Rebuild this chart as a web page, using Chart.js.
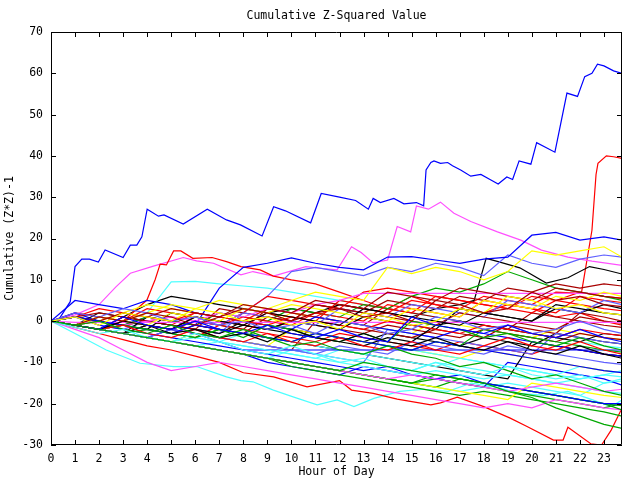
<!DOCTYPE html>
<html>
<head>
<meta charset="utf-8">
<script src="https://cdn.jsdelivr.net/npm/chart.js@4.4.1/dist/chart.umd.min.js"></script>
<style>
  html, body { margin: 0; padding: 0; background: #fff; }
</style>
</head>
<body>
<canvas id="chart" width="640" height="480"></canvas>
<script>
// ---- data (hours of day, cumulative Z*Z-1 per run) ----
const chartTitle = "Cumulative Z-Squared Value";
const xTitle = "Hour of Day";
const yTitle = "Cumulative (Z*Z)-1";
const hourTicks = [0, 1, 2, 3, 4, 5, 6, 7, 8, 9, 10, 11, 12, 13, 14, 15, 16, 17, 18, 19, 20, 21, 22, 23];

// hourly samples shared by most runs
const hours = [0, 1, 2, 3, 4, 5, 6, 7, 8, 9, 10, 11, 12, 13, 14, 15, 16, 17, 18, 19, 20, 21, 22, 23, 23.75];

const run01 = [0, -1, -2, -3, -4, -5, -6, -7, -8, -9, -10, -11, -12, -10, -11, -12, -13, -14, -15, -17, -18.5, -21, -23, -25, -26];
const run02 = [0, -1.5, -3, -2, -4, -5, -3, -5, -7, -8, -6, -8, -10, -9, -11, -12, -10, -12, -13, -11, -13, -14, -13, -15, -14];
const run03 = [0, -1, 0, -2, -3, -1, -3, -4, -2, -4, -6, -5, -7, -8, -6, -8, -9, -11, -10, -12, -14, -13, -15, -17, -18];
const run04 = [0, -1, -2, 1, -1, -2, 0, -2, -3, -1, -3, -4, -2, -4, -5, 1, -1, -2, -3, -1, -3, -4, -2, -4, -5];
const run05 = [0, -1, 1, 0, 2, 1, -1, 1, 3, 2, 0, 4, 3, 1, 2, 0, 5, 4, 2, 3, 7, 5, 6, 4, 3.5];
const run06 = [0, 1, -1, 2, 1, 0, 3, 2, 0, 1, -1, 0, -2, 2, 1, -1, 0, 3, 2, 6, 5, 3, 4, 2, 1.5];
const run07 = [0, -1, -2, 0, -1, -3, -2, -4, -3, -5, -2, -4, -5, -3, -5, -6, -4, -6, -7, -5, -7, -8, -6, -8, -9];
const run08 = [0, 2, 1, 3, 2, 0, 1, -1, 0, -2, -1, -3, 0, -1, -3, -2, 1, 0, -2, -1, -3, -2, 0, -2, -3];
const run09 = [0, -1, -2, -1, -3, -4, -2, -4, -5, -3, -5, -6, -4, -6, -7, -5, -7, -8, -6, -4, -6, -7, -5, -7, -8];
const run10 = [0, -1, -2, -1, -2, -3, -4, -2, -4, -1, -2, -4, -5, -3, -5, 0, -1, -2, -4, -3, -5, -6, -4, -6, -7];
const run11 = [0, 1, 0, -1, -2, -3, -1, -2, -3, -4, -5, -3, -4, -5, -6, -7, -5, -6, -7, -8, -9, -10, -11, -12, -12.5];
const run12 = [0, -1, -2, -3, -4, -5, -6, -7, -8, -9, -10, -11, -12, -13, -14, -13, -14, -15, -16, -17, -16, -15, -16, -17, -16.5];
const run13 = [0, -1, -2, -3, -4, -5, -4, -5, -6, -7, -8, -9, -10, -11, -12, -13, -12, -13, -14, -13, -14, -15, -14, -13, -13.5];
const run14 = [0, 1, 0, 2, 1, 3, 2, 1, 4, 3, 2, 5, 4, 3, 7, 6, 5, 8, 7, 6, 5, 8, 7, 6, 5.5];
const run15 = [0, -1, 1, 0, -1, 2, 1, 0, 3, 2, 4, 3, 2, 1, 0, 3, 2, 1, 5, 4, 3, 6, 5, 7, 6];
const run16 = [0, -1, -2, -3, -1, -2, 1, 0, -1, 2, 1, 0, -1, 3, 2, 1, 0, -1, 2, 1, 0, 4, 3, 2, 1.5];
const run17 = [0, -1, -2, -3, -4, -2, -3, -4, -5, -6, -7, -8, -6, -7, -8, -5, -6, -7, -8, -6, -7, -8, -9, -10, -10.5];
const run18 = [0, 1, 3, 2, 1, 0, 2, 1, 0, -1, 1, 0, -1, -2, 0, -1, -2, -3, -1, -2, -3, -4, -2, -3, -3.5];
const run19 = [0, -1, -2, -3, -2, -3, -4, -2, -3, -4, -5, -3, -4, -5, -6, -7, -5, -6, -2, -3, -4, -5, -6, -7, -7.5];
const run20 = [0, 1, -1, -2, -3, -4, -5, -6, -7, -8, -9, -10, -11, -12, -11, -13, -14, -13, -15, -16, -17, -18, -19, -20, -20];
const run21 = [0, -0.3, -0.3, -0.3, -0.3, -0.3, -0.3, -0.3, -0.3, -0.3, -0.3, -0.3, -0.3, -0.3, -0.3, -0.3, -0.3, -0.3, -0.3, -0.3, -0.3, -0.3, -0.3, -0.3, -0.3];
const run22 = [0, -1, -2, -3, -4, -2, -3, -5, -7, -7, -7, -7, -7, -7, -7, -7, -7, -7, -7, -7, -7, -7, -7, -7, -7];
const run23 = [0, -1, -2, -1, 0, 1, 0, 2, 1, 3, 2, 4, 5, 6.7, 6.7, 6.7, 6.7, 6.7, 6.7, 6.7, 6.7, 6.7, 6.7, 6.7, 6.7];
const run24 = [0, -1, -2, -3, -2, -3, -4, -5, -3, -4, -5, -6, -7, -8, -6, -7, -8, -9, -10, -11, -12, -13, -14, -13, -12];
const run25 = [0, -1, 0, -1, -2, -3, -1, -2, -3, 1, 0, 2, 3, 2, 1, 0, -1, 2, 1, 0, -1, -2, 1, 0, -0.5];
const run26 = [0, -1, 1, 0, 2, 4, 3, 5, 4, 3, 5, 7, 6, 5, 13, 11.5, 13, 12, 10, 12, 17, 16, 17, 18, 15.5];
const run27 = [0, 1, 0, -1, -2, 2, 1, 0, -1, -2, -3, -4, -5, -6, -4, -5, -1, 0, -1, -2, -3, -4, -5, -3, -3.5];
const run28 = [0, -1, -2, -3, -4, -5, -6, -7, -8, -9, -10, -11, -12, -13, -14, -15, -13, -14, -15, -16, -17, -18, -19, -20, -21.5];
const run29 = [0, -1, 1, 0, -1, -2, 0, -1, 2, 1, 0, -1, 3, 2, 1, 4, 3, 2, 1, 5, 4, 3, 2, 5, 4];
const run30 = [0, -1, -2, -3, -4, -5, -6, -7, -8, -9, -7, -8, -9, -10, -11, -12, -10, -11, -12, -13, -14, -15, -16, -17, -17.5];
const run31 = [0, 1, 2, 1, 0, -1, -2, 3, 2, 1, 0, 4, 3, 2, 5, 4, 3, 6, 5, 8, 7, 9, 8, 9, 8.5];
const run32 = [0, -1, -2, -3, -4, -5, -3, -4, -5, -6, -2, -3, -4, -5, -6, -7, -8, -9, -7, -8, -9, -10, -11, -12, -12.5];
const run33 = [0, -1, 2, 1, 0, -1, -2, -3, -1, -2, 0, -1, -2, 1, 0, -1, -2, 3, 2, 1, 0, 3, 2, 4, 3];
const run34 = [0, -1, -2, -3, -1, -2, 0, -1, 1, 0, -1, 2, 1, 0, 4, 3, 2, 1, 5, 4, 3, 2, 6, 5, 4.5];
const run35 = [0, 1, 0, -1, 1, 0, -1, 2, 1, 0, 3, 2, 1, 4, 3, 6, 8, 7, 9, 12, 10, 8, 7, 6, 5];
const run36 = [0, 5, 4, 3, 5, 4, 2, 1, 0, -1, -2, 1, 0, -1, -2, -3, -4, -2, -3, -4, -5, -6, -7, -8, -8.5];
const run37 = [0, -2, -4, -7, -10, -12, -11, -10, -11, -12, -13, -14, -15, -16, -17, -18, -19, -20, -21, -20, -21, -19, -20, -21, -21.5];
const run38 = [0, -1, -2, 0, -1, -2, 1, 0, -1, -2, 0, -1, -2, -3, -1, -2, -3, -4, -2, -3, -4, -5, -3, -4, -4.5];
const run39 = [0, -1, -2, -1, 0, 1, 0, -1, 2, 6, 5, 4, 3, 7, 8, 7, 6, 5, 4, 3, 6, 5, 7, 6, 5.5];
const run40 = [0, -1, -2, -3, -1, -2, -3, -4, -5, -6, -7, -8, -9, -10, -2, -3, -4, -5, -6, -7, -8, -3, -4, -5, -5.5];
const run41 = [0, -1, -2, -3, -4, -5, -6, -5, -6, -7, -8, -9, -7, -8, -9, -10, -11, -9, -10, -11, -12, -13, -11, -12, -12.5];
const run42 = [0, -1, -2, -3, -4, -5, -6, -7, -8, -9, -10, -11, -12, -13, -14, -15, -14, -15, -16, -17, -18, -19, -20, -21, -20];
const run43 = [0, -1, -2, 0, -1, -2, -3, -4, -5, -6, -7, 0, -1, -2, -3, -4, -2, -3, -4, -1, -2, -3, 2, 1, 0];
const run44 = [0, -1, -2, -3, 1, 0, -1, -2, -3, -4, -5, -6, -7, -8, -9, -10, -11, -12, -13, -14, -5, -6, -7, -8, -8.5];
const run45 = [0, -1, -2, -3, -4, -5, -6, -7, -8, -9, -10, -11, -12, -13, -14, -15, -16, -17, -18, -19, -15, -16, -17, -18, -18.5];
const run46 = [0, 2, 0, -1, 1, 0, -1, 8, 13, 14, 15.3, 14, 13, 12.4, 15.5, 15.6, 14.8, 14, 15, 15.5, 20.8, 21.5, 19.6, 20.4, 19.6];
const run47 = [0, 1, -1, -2, 0, -1, -2, -3, 2, 6, 12, 13, 12, 11, 13, 12, 14, 13, 11, 16, 14, 13, 15, 16, 15.5];
const run48 = [0, 2, 1, 0, 3, 2, 1, 0, -1, 2, 1, 0, 5, 4, 3, 2, 6, 5, 4, 3, 2, 5, 4, 3, 2.5];
const run49 = [0, -1, 1, 0, -1, -2, 0, -1, -2, 3, 2, 1, 0, -1, 3, 2, 1, 0, -1, -2, 2, 1, 0, -1, -1.5];
const run50 = [0, 1, 0, 2, 4, 3, 2, 1, 0, -1, 2, 1, 0, -1, -2, -3, 0, -1, -2, -3, -4, -2, -3, -4, -4.5];
const run51 = [0, -1, -2, -1, 0, -1, -2, -3, 0, -1, -2, -3, -4, -5, -3, -4, -5, -6, -4, -5, -6, -3, -4, -5, -5.5];
const run52 = [0, -1, -2, -3, -2, -3, -4, -1, -2, -3, -4, -5, -3, -4, -5, -6, -7, -5, -6, -7, -8, -6, -7, -8, -8.5];
const run53 = [0, -1, 1, 0, 2, 9.5, 9.6, 9, 8.5, 8, 7, 6, 5, 4, 3, 2, 1, 0, -1, -2, -3, -4, -5, -6, -6.5];
const run54 = [0, -1, -2, -3, -4, -5, -6, -7, -8, -9, -11, -12, -13, -14, -15, -16, -17, -18, -17, -18, -19, -20, -21, -22, -23];
const run55 = [0, -1, -2, -3, -4, -5, -6, -7, -8, -10, -11, -12, -13, -11, -12, -13, -14, -15, -16, -10, -11, -12, -13, -14, -15.5];
const run56 = [0, -1, -2, -3, -4, -5, -6, -7, -8, -9, -10, -11, -12, -13, -14, -15, -16, -14, -15, -16, -17, -18, -19, -20, -20.5];
const run57 = [0, -1, -2, -3, -4, -5, -6, -7, -8, -9, -10, -11, -12, -13, -14, -15, -16, -17, -16, -15, -16, -17, -18, -15, -14.5];

// runs read at finer time steps
const topBlueHours = [0, 0.25, 0.5, 0.8, 1, 1.28, 1.6, 1.97, 2.25, 3, 3.3, 3.57, 3.78, 4, 4.47, 4.7, 5.5, 6.5, 7.3, 7.88, 8.78, 9.26, 9.75, 10.8, 11.24, 12, 12.67, 13.2, 13.4, 13.7, 14.26, 14.68, 15.2, 15.5, 15.6, 15.8, 15.93, 16.2, 16.5, 16.7, 17.04, 17.46, 17.88, 18.26, 18.6, 18.96, 19.2, 19.47, 19.96, 20.2, 20.96, 21.46, 21.9, 22.2, 22.5, 22.73, 23, 23.4, 23.75];
const topBlueValues = [0, -0.3, 2, 4.7, 13.2, 15, 15, 14.3, 17.2, 15.4, 18.4, 18.4, 20.4, 27.1, 25.4, 25.7, 23.5, 27.1, 24.5, 23.3, 20.6, 27.7, 26.7, 23.8, 30.9, 30, 29.2, 27.1, 29.7, 28.7, 29.7, 28.4, 28.7, 27.9, 36.6, 38.4, 38.8, 38.2, 38.4, 37.6, 36.6, 35.1, 35.5, 34.3, 33.2, 34.9, 34.3, 38.8, 38, 43.2, 40.9, 55.2, 54.4, 59.2, 60, 62.2, 61.8, 60.6, 60];

const spikeRedHours = [0, 1, 2, 3, 4, 5, 6, 7, 8, 9, 10, 11, 12, 13, 14, 15, 16, 17, 18, 19, 20, 21, 22.06, 22.5, 22.67, 22.75, 23.1, 23.4, 23.75];
const spikeRedValues = [0, -1, -2, 1, 0, -1, 2, 1, 0, 3, 2, 1, 4, 3, 2, 5, 4, 3, 6, 5, 4, 7, 6.7, 22, 35.5, 38.2, 40, 39.8, 39.4];

const pinkHours = [0, 1, 2, 2.7, 3.3, 4.26, 5.5, 6.06, 6.76, 7.9, 8.4, 9.25, 10.6, 11.2, 11.9, 12.5, 12.9, 13.4, 14, 14.4, 14.96, 15.2, 15.7, 16.2, 16.76, 17.46, 18.57, 19.54, 20.4, 21.5, 22.5, 23.75];
const pinkValues = [0, 1.5, 4, 8.3, 11.6, 13.3, 15.4, 14.6, 14, 11.2, 12, 10.9, 13.2, 12.8, 12.4, 18, 16.6, 14.1, 14.8, 22.9, 21.6, 27.9, 27.1, 28.8, 26.1, 24.1, 21.6, 19.6, 17.2, 15.5, 14.5, 13.5];

const redHighHours = [0, 1, 2, 3, 3.99, 4.33, 4.54, 4.8, 5.1, 5.4, 5.9, 6.7, 7.3, 7.9, 8.7, 9.25, 10, 11, 12, 13, 14, 15, 16, 17, 18, 19, 20, 21, 22, 23, 23.75];
const redHighValues = [0, -1, -2, 0, 5.1, 10, 13.8, 13.6, 17, 17, 15.2, 15.4, 14.4, 13.2, 12.4, 10.9, 10, 9, 7, 5, 3, 6, 4, 3, 2, 4, 3, 1, 2, 0, -1];

const redLowHours = [0, 1, 2, 3, 4, 5, 6, 7, 8, 9.26, 10.65, 12, 12.5, 13.4, 14.4, 15.8, 16.2, 16.9, 18, 19.1, 19.8, 20.9, 21.3, 21.5, 22.45, 22.9, 23.3, 23.75];
const redLowValues = [0, -1.5, -3, -4.5, -6, -7, -8.5, -10, -12.5, -13.5, -15.9, -14.4, -16.7, -17.5, -18.9, -20.3, -19.8, -18.4, -20.7, -23.5, -25.5, -28.8, -28.8, -25.7, -29.7, -30, -26.4, -21.1];

const cyanLowHours = [0, 1, 2.3, 3.7, 5.1, 6.06, 7.3, 7.9, 8.4, 9.25, 10.1, 11.07, 11.9, 12.6, 13.43, 14.5, 15.5, 16.5, 17.5, 18.5, 19.5, 20.5, 21.5, 22.5, 23.3, 23.75];
const cyanLowValues = [0, -3, -7, -10.2, -11, -11, -13.5, -14.4, -14.7, -16.7, -18.4, -20.3, -19.1, -20.7, -18.7, -17, -16.5, -17, -15, -16, -17.5, -18, -17, -19, -20.7, -19.1];

const blackHighHours = [0, 1, 2, 3, 4, 5, 6, 7, 8, 9, 10, 11, 12, 13, 14, 15, 16, 17, 17.6, 18.1, 18.6, 19.5, 20.6, 21.5, 22.4, 23, 23.75];
const blackHighValues = [0, -1, -2, 1, 4, 6, 5, 4, 3, 2, 3, 2, 4, 3, 2, 1, 3, 4, 5, 15.2, 14.4, 12.9, 9.2, 10.5, 13.2, 12.5, 11.4];

// ---- styling ----
const palette = {
  R: "#ff0000", G: "#00a800", B: "#0000ff", M: "#ff50ff", C: "#50ffff",
  D: "#a80000", Y: "#ffff00", K: "#000000", S: "#6060ff"
};

const hourlyRuns = [
  [run01, "G"], [run02, "C"], [run03, "G"], [run04, "B"], [run05, "D"], [run06, "Y"],
  [run07, "K"], [run08, "S"], [run09, "R"], [run10, "G"], [run11, "B"], [run12, "M"],
  [run13, "C"], [run14, "D"], [run15, "Y"], [run16, "K"], [run17, "S"], [run18, "R"],
  [run19, "G"], [run20, "B"], [run21, "M"], [run22, "B"], [run23, "M"], [run24, "C"],
  [run25, "D"], [run26, "Y"], [run27, "K"], [run28, "G"], [run29, "S"], [run30, "C"],
  [run31, "D"], [run32, "Y"], [run33, "K"], [run34, "R"], [run35, "G"], [run36, "B"],
  [run37, "M"], [run38, "D"], [run39, "R"], [run40, "S"], [run41, "C"], [run42, "G"],
  [run43, "D"], [run44, "K"], [run45, "Y"], [run46, "B"], [run47, "S"], [run48, "R"],
  [run49, "D"], [run50, "Y"], [run51, "K"], [run52, "R"], [run53, "C"], [run54, "G"],
  [run55, "B"], [run56, "G"], [run57, "C"]
];

const detailedRuns = [
  [redLowHours, redLowValues, "R"],
  [cyanLowHours, cyanLowValues, "C"],
  [redHighHours, redHighValues, "R"],
  [blackHighHours, blackHighValues, "K"],
  [pinkHours, pinkValues, "M"],
  [spikeRedHours, spikeRedValues, "R"],
  [topBlueHours, topBlueValues, "B"]
];

const toPoints = (xs, ys) => xs.map((x, i) => ({ x: x, y: ys[i] }));
const lineStyle = (key) => ({
  borderColor: palette[key],
  borderWidth: 1.2,
  pointRadius: 0,
  tension: 0,
  fill: false
});

const datasets = [];
hourlyRuns.forEach(([vals, key]) => {
  datasets.push({ data: toPoints(hours, vals), ...lineStyle(key) });
});
detailedRuns.forEach(([xs, ys, key]) => {
  datasets.push({ data: toPoints(xs, ys), ...lineStyle(key) });
});

const FONT = { family: "'DejaVu Sans Mono', monospace", size: 11.5 };

// gnuplot-like frame: border box, inward ticks mirrored on all sides, centred title
const framePlugin = {
  id: "frame",
  afterDatasetsDraw(chart) {
    const { ctx, chartArea: a, scales } = chart;
    const x = scales.x, y = scales.y;
    ctx.save();
    ctx.strokeStyle = "#000";
    ctx.lineWidth = 1;
    ctx.beginPath();
    ctx.rect(a.left + 0.5, a.top + 0.5, a.right - a.left - 1, a.bottom - a.top - 1);
    x.ticks.forEach((t) => {
      const px = Math.round(x.getPixelForValue(t.value)) + 0.5;
      ctx.moveTo(px, a.bottom);
      ctx.lineTo(px, a.bottom - 5);
      ctx.moveTo(px, a.top);
      ctx.lineTo(px, a.top + 5);
    });
    y.ticks.forEach((t) => {
      const py = Math.round(y.getPixelForValue(t.value)) + 0.5;
      ctx.moveTo(a.left, py);
      ctx.lineTo(a.left + 5, py);
      ctx.moveTo(a.right, py);
      ctx.lineTo(a.right - 5, py);
    });
    ctx.stroke();
    ctx.fillStyle = "#000";
    ctx.font = FONT.size + "px " + FONT.family;
    ctx.textAlign = "center";
    ctx.textBaseline = "middle";
    ctx.fillText(chartTitle, (a.left + a.right) / 2, 16);
    ctx.restore();
  }
};

new Chart(document.getElementById("chart"), {
  type: "line",
  data: { datasets: datasets },
  options: {
    responsive: false,
    animation: false,
    events: [],
    layout: { padding: { top: 32, right: 18, left: 0, bottom: 0 } },
    plugins: {
      legend: { display: false },
      tooltip: { enabled: false },
      title: { display: false }
    },
    scales: {
      x: {
        type: "linear",
        min: 0,
        max: 23.75,
        afterBuildTicks: (scale) => {
          scale.ticks = hourTicks.map((h) => ({ value: h }));
        },
        afterFit: (scale) => { scale.height = 35; },
        grid: { display: false, drawTicks: false },
        border: { display: false },
        ticks: { autoSkip: false, maxRotation: 0, color: "#000", font: FONT, padding: 7 },
        title: { display: true, text: xTitle, color: "#000", font: FONT, padding: { top: 0, bottom: 1 } }
      },
      y: {
        type: "linear",
        min: -30,
        max: 70,
        ticks: { stepSize: 10, color: "#000", font: FONT, padding: 8 },
        afterFit: (scale) => { scale.width = 51; },
        grid: { display: false, drawTicks: false },
        border: { display: false },
        title: { display: true, text: yTitle, color: "#000", font: FONT, padding: { top: 3, bottom: 0 } }
      }
    }
  },
  plugins: [framePlugin]
});
</script>
</body>
</html>
